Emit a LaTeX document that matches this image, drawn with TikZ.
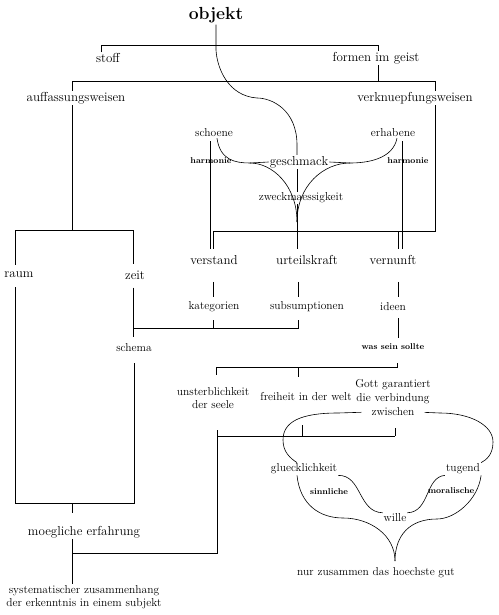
\documentclass[tikz,border=0pt]{standalone}
\usepackage{tikz}

\begin{document}
\begin{tikzpicture}[
    x=1pt, y=-1pt,
    title/.style={
        inner sep=1pt,
        font=\fontsize{17.5}{20}\selectfont\bfseries
    },
    term/.style={
        inner sep=1pt,
        font=\fontsize{13}{15}\selectfont
    },
    minor/.style={
        inner sep=1pt,
        align=center,
        font=\fontsize{11.5}{13.5}\selectfont
    },
    gloss/.style={
        inner sep=1pt,
        font=\fontsize{8.5}{10}\selectfont\bfseries
    }
]

\useasboundingbox (0,0) rectangle (498,615);

% --- NODES: TOP ---
\node[title] (objekt) at (216,15.5) {objekt};
\node[term] (stoff) at (108,58) {stoff};
\node[term] (formen) at (376,58) {formen im geist};
\node[term] (auff) at (76,98) {auffassungsweisen};
\node[term] (verkn) at (415,98) {verknuepfungsweisen};

% --- NODES: GESCHMACK ---
\node[minor] (schoene) at (214,133) {schoene};
\node[minor] (erhabene) at (393,133) {erhabene};
\node[gloss] (harmL) at (211,161) {harmonie};
\node[gloss] (harmR) at (408,161) {harmonie};
\node[term] (geschmack) at (299,162) {geschmack};
\node[minor] (zweck) at (301,198) {zweckmaessigkeit};

% --- NODES: VERMOEGEN ---
\node[term] (raum) at (19,275) {raum};
\node[term] (zeit) at (135,275) {zeit};
\node[term] (verstand) at (214,260) {verstand};
\node[term] (urteil) at (307,260) {urteilskraft};
\node[term] (vernunft) at (393,260) {vernunft};
\node[minor] (kategorien) at (214,307) {kategorien};
\node[minor] (subsump) at (307,307) {subsumptionen};
\node[minor] (ideen) at (393,307) {ideen};
\node[minor] (schema) at (134,348) {schema};
\node[gloss] (sollte) at (393,347) {was sein sollte};

% --- NODES: POSTULATE ---
\node[minor] (unsterb) at (213,398) {unsterblichkeit\\der seele};
\node[minor] (freiheit) at (306,397) {freiheit in der welt};
\node[minor] (gott) at (393,391.5) {Gott garantiert\\die verbindung};
\node[minor] (zwischen) at (393,412) {zwischen};
\node[minor] (glueck) at (304,469) {gluecklichkeit};
\node[minor] (tugend) at (463,469) {tugend};
\node[gloss] (sinnlich) at (329,492) {sinnliche};
\node[gloss] (moral) at (451,491) {moralische};
\node[minor] (wille) at (395,518) {wille};
\node[minor] (gut) at (376,573) {nur zusammen das hoechste gut};

% --- NODES: BOTTOM ---
\node[term] (moegl) at (84,532) {moegliche erfahrung};
\node[minor] (system) at (84,597) {systematischer zusammenhang\\der erkenntnis in einem subjekt};

% --- JUNCTIONS ---
\coordinate (jStoff) at (101,45);
\coordinate (jForm)  at (378,45);
\coordinate (jObj)   at (216,50);
\coordinate (jAuff)  at (72,81);
\coordinate (jGeist) at (378,81);
\coordinate (jVerk)  at (435,81);
\coordinate (jBoxR)  at (435,231);
\coordinate (jBoxL)  at (213,231);
\coordinate (jBoxV)  at (398,231);
\coordinate (jSch)   at (210,141);
\coordinate (jErh)   at (402,141);
\coordinate (jGL)    at (250,163);
\coordinate (jGR)    at (350,163);
\coordinate (jUrt)   at (297,222);
\coordinate (jAnsch) at (72,230);
\coordinate (jRaum)  at (15,230);
\coordinate (jZeit)  at (133,230);
\coordinate (jZS)    at (133,328);
\coordinate (jKat)   at (213,328);
\coordinate (jSub)   at (298,328);
\coordinate (jFeldL) at (15,503);
\coordinate (jFeldR) at (134,503);
\coordinate (jMoegl) at (72,503);
\coordinate (jPost)  at (397,367);
\coordinate (jUns)   at (216,367);
\coordinate (jFrei)  at (298,367);
\coordinate (jBackU) at (217,436);
\coordinate (jBackF) at (302,436);
\coordinate (jBackG) at (395,436);
\coordinate (jErf)   at (217,553);
\coordinate (jSys)   at (72,553);
\coordinate (jGut)   at (395,561);

% --- BRACKETS ---
\begin{scope}[line width=0.9pt]
    \draw (stoff.north -| jStoff) -- (jStoff) -- (jForm) -- (formen.north -| jForm);
    \draw (formen.south -| jGeist) -- (jGeist);
    \draw (auff.north -| jAuff) -- (jAuff) -- (jVerk) -- (verkn.north -| jVerk);
    \draw[shorten >=5pt] (verkn.south -| jVerk) -- (jBoxR) -- (jBoxL) -- (verstand.north -| jBoxL);
    \draw[shorten >=5pt] (jBoxV) -- (vernunft.north -| jBoxV);
    \draw[shorten <=3pt, shorten >=5pt] (schoene.south -| jSch) -- (verstand.north -| jSch);
    \draw[shorten <=3pt, shorten >=5pt] (erhabene.south -| jErh) -- (vernunft.north -| jErh);
    \draw (geschmack.south -| jUrt) -- (zweck.north -| jUrt);
    \draw[shorten >=5pt] (zweck.south -| jUrt) -- (urteil.north -| jUrt);
    % anschauung
    \draw (auff.south -| jAnsch) -- (jAnsch);
    \draw[shorten <=6pt, shorten >=5pt] (raum.north -| jRaum) -- (jRaum) -- (jZeit) -- (zeit.north -| jZeit);
    \draw[shorten <=7pt, shorten >=6pt] (zeit.south -| jZeit) -- (schema.north -| jZeit);
    \draw[shorten <=8pt, shorten >=10pt] (raum.south -| jRaum) -- (jFeldL) -- (jFeldR) -- (schema.south -| jFeldR);
    \draw[shorten >=12pt] (jMoegl) -- (moegl.north -| jMoegl);
    \draw (moegl.south -| jMoegl) -- (system.north -| jMoegl);
    % verstand, urteilskraft, vernunft
    \draw[shorten <=16pt, shorten >=4pt] (verstand.south -| jKat) -- (kategorien.north -| jKat);
    \draw[shorten <=16pt, shorten >=4pt] (urteil.south -| jSub) -- (subsump.north -| jSub);
    \draw[shorten <=16pt, shorten >=5pt] (vernunft.south -| jBoxV) -- (ideen.north -| jBoxV);
    \draw[shorten <=7pt] (kategorien.south -| jKat) -- (jKat);
    \draw[shorten <=7pt] (subsump.south -| jSub) -- (jSub) -- (jZS);
    \draw[shorten <=6pt, shorten >=5pt] (ideen.south -| jBoxV) -- (sollte.north -| jBoxV);
    % postulate
    \draw[shorten <=12pt, shorten >=11pt] (sollte.south -| jPost) -- (jPost) -- (jUns) -- (unsterb.north -| jUns);
    \draw[shorten >=15pt] (jFrei) -- (freiheit.north -| jFrei);
    \draw[shorten <=20pt] (unsterb.south -| jBackU) -- (jBackU) -- (jBackG);
    \draw[shorten <=23pt] (freiheit.south -| jBackF) -- (jBackF);
    \draw[shorten <=11pt] (zwischen.south -| jBackG) -- (jBackG);
    \draw (jBackU) -- (jErf) -- (jSys);
\end{scope}

% --- CURVES ---
\begin{scope}[line width=0.6pt]
    \draw (objekt.south) -- (jObj)
        .. controls (217,68) and (228,96) .. (257,98)
        .. controls (272,98) and (297,110) .. (297,145)
        -- (geschmack.north -| jUrt);
    \draw ([xshift=3pt]schoene.south) .. controls (220,160) and (235,163) .. (jGL) -- (geschmack.west);
    \draw ([xshift=4pt]erhabene.south) .. controls (393,158) and (370,163) .. (jGR) -- (geschmack.east);
    \draw (jGL) .. controls (272,163) and (297,185) .. (jUrt);
    \draw (jGR) .. controls (324,163) and (297,185) .. (jUrt);
    % zwischen
    \draw[shorten <=9pt] (zwischen.west) -- (338,413)
        .. controls (300,413) and (283,422) .. (283,440)
        .. controls (283,452) and (290,458) .. ([xshift=-7pt]glueck.north);
    \draw[shorten <=9pt] (zwischen.east) -- (440,413)
        .. controls (470,413) and (493,425) .. (493,442)
        .. controls (493,455) and (486,460) .. (tugend.north east);
    % wille
    \draw ([xshift=-7pt]glueck.south) .. controls (300,505) and (320,518) .. (343,518)
        .. controls (370,518) and (395,535) .. (jGut);
    \draw (tugend.south east) .. controls (478,500) and (455,519) .. (437,519)
        .. controls (410,519) and (395,535) .. (jGut);
    \draw (glueck.south east) .. controls (362,475) and (358,512) .. (wille.north west);
    \draw (tugend.south west) .. controls (425,477) and (430,512) .. (wille.north east);
\end{scope}

\end{tikzpicture}
\end{document}
